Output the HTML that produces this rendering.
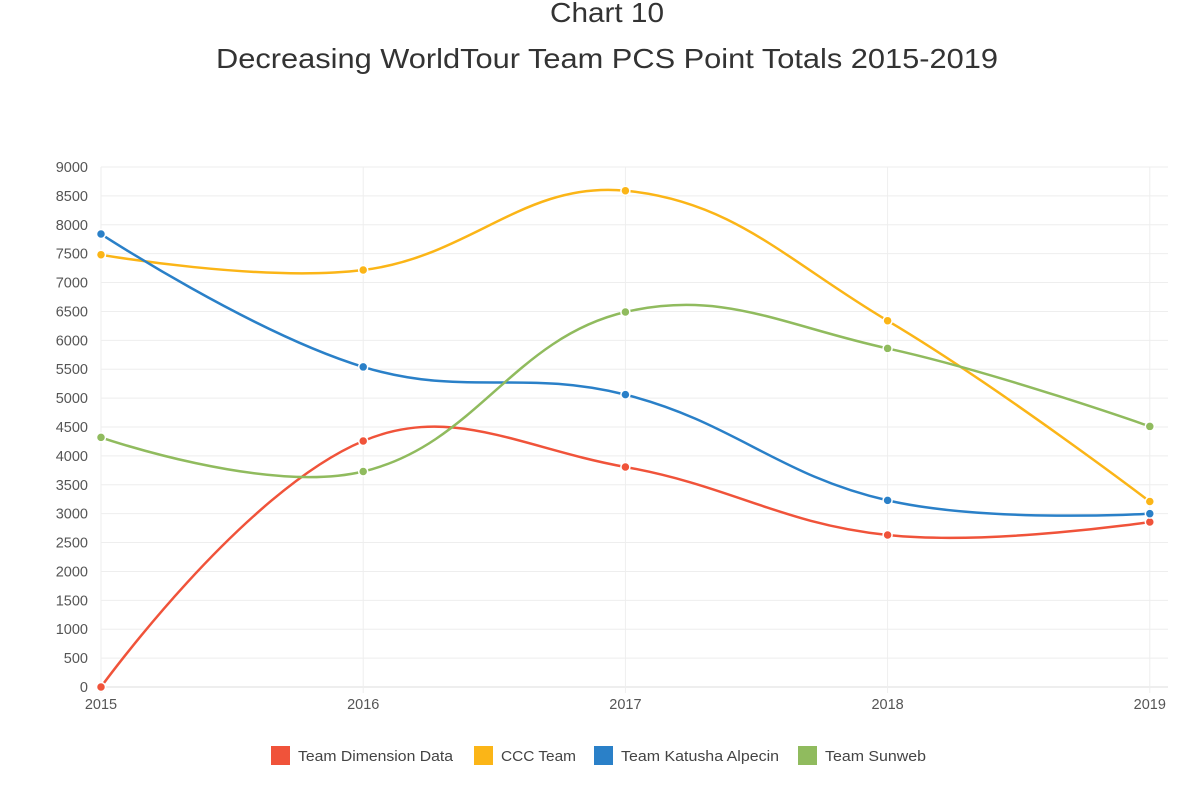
<!DOCTYPE html>
<html><head><meta charset="utf-8">
<style>
body{margin:0;background:#fff;width:1192px;height:792px;overflow:hidden;font-family:"Liberation Sans",sans-serif}
</style></head><body>
<svg id="s" width="1192" height="792" xmlns="http://www.w3.org/2000/svg" font-family="Liberation Sans, sans-serif">
<text x="550" y="22" font-size="28" fill="#333" textLength="114" lengthAdjust="spacingAndGlyphs">Chart 10</text>
<text x="216" y="68" font-size="28" fill="#333" textLength="782" lengthAdjust="spacingAndGlyphs">Decreasing WorldTour Team PCS Point Totals 2015-2019</text>
<g id="grid"></g>
<g id="lines"></g>
<g font-size="14.5" fill="#444">
<rect x="271" y="746" width="19" height="19" fill="#f0533a"/><text x="298" y="761" textLength="155" lengthAdjust="spacingAndGlyphs">Team Dimension Data</text>
<rect x="474" y="746" width="19" height="19" fill="#fbb517"/><text x="501" y="761" textLength="75" lengthAdjust="spacingAndGlyphs">CCC Team</text>
<rect x="594" y="746" width="19" height="19" fill="#2a80c8"/><text x="621" y="761" textLength="158" lengthAdjust="spacingAndGlyphs">Team Katusha Alpecin</text>
<rect x="798" y="746" width="19" height="19" fill="#90bb5e"/><text x="825" y="761" textLength="101" lengthAdjust="spacingAndGlyphs">Team Sunweb</text>
</g>
</svg>
<script>
var NS="http://www.w3.org/2000/svg";
function el(p,t,a,txt){var e=document.createElementNS(NS,t);for(var k in a)e.setAttribute(k,a[k]);if(txt!=null)e.textContent=txt;document.getElementById(p).appendChild(e);}
var X0=101,DX=262.2,Y0=687,SY=520/9000,R=1168;
for(var v=0;v<=9000;v+=500){var y=Y0-v*SY;
el("grid","line",{x1:X0,x2:R,y1:y,y2:y,stroke:v==0?"#ddd":"#eee","stroke-width":1});
el("grid","text",{x:88,y:y+5,"text-anchor":"end","font-size":14.5,fill:"#555"},v);}
var yrs=[2015,2016,2017,2018,2019];
for(var i=0;i<5;i++){var x=X0+i*DX;
el("grid","line",{x1:x,x2:x,y1:167,y2:Y0+6,stroke:"#eee","stroke-width":1});
el("grid","text",{x:x,y:709,"text-anchor":"middle","font-size":14.5,fill:"#555"},yrs[i]);}
var data=[["#f0533a",[0,4258,3808,2631,2856]],["#fbb517",[7482,7217,8590,6340,3210]],["#2a80c8",[7840,5540,5060,3230,3000]],["#90bb5e",[4320,3730,6490,5860,4510]]];
var t=0.4;
data.forEach(function(d){
var P=d[1].map(function(v,i){return [X0+i*DX,Y0-v*SY];});
var cp=P.map(function(p,i){
 if(i==0||i==P.length-1)return [p,p];
 var a=P[i-1],b=P[i+1];
 var d01=Math.hypot(p[0]-a[0],p[1]-a[1]),d12=Math.hypot(b[0]-p[0],b[1]-p[1]);
 var fa=t*d01/(d01+d12),fb=t*d12/(d01+d12);
 return [[p[0]-fa*(b[0]-a[0]),p[1]-fa*(b[1]-a[1])],[p[0]+fb*(b[0]-a[0]),p[1]+fb*(b[1]-a[1])]];
});
var s="M"+P[0][0]+","+P[0][1];
for(var i=1;i<P.length;i++){var c1=cp[i-1][1],c2=cp[i][0];s+=" C"+c1[0]+","+c1[1]+" "+c2[0]+","+c2[1]+" "+P[i][0]+","+P[i][1];}
el("lines","path",{d:s,fill:"none",stroke:d[0],"stroke-width":2.5});
P.forEach(function(p){el("lines","circle",{cx:p[0],cy:p[1],r:4.5,fill:d[0],stroke:"#fff","stroke-width":1.5});});
});
</script>
</body></html>
